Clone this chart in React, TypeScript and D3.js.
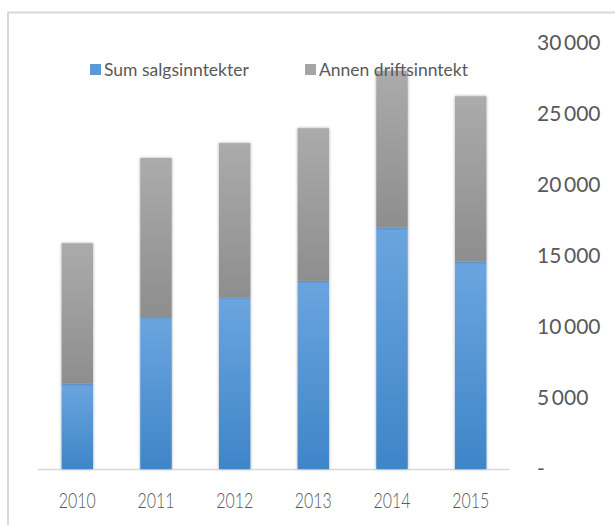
import React from 'react';
import * as d3 from 'd3';

// values
const years = ['2010', '2011', '2012', '2013', '2014', '2015'];
const sumSalgsinntekter = [6000, 10700, 12100, 13250, 17000, 14600];
const annenDriftsinntekt = [9900, 11200, 10850, 10750, 11050, 11650];
const yTicks = [0, 5000, 10000, 15000, 20000, 25000, 30000];
const seriesNames = ['Sum salgsinntekter', 'Annen driftsinntekt'];

const W = 615;
const H = 525;
const textColor = '#595959';
const font = 'Lato, sans-serif';

const nb = d3.formatLocale({decimal: ',', thousands: '\u2009', grouping: [3], currency: ['', '']});
const fmt = (v: number) => (v === 0 ? '-' : nb.format(',')(v));

export default function App() {
  const x = d3.scaleBand<string>()
    .domain(years)
    .range([38, 510])
    .paddingInner(0.6)
    .paddingOuter(0.3);

  const y = d3.scaleLinear()
    .domain([0, 30000])
    .range([469, 43]);

  const stack = d3.stack<number>()
    .keys([0, 1] as any)
    .value((i, k: any) => (k === 0 ? sumSalgsinntekter[i] : annenDriftsinntekt[i]));
  const layers = stack(d3.range(years.length));
  const fills = ['url(#gBlue)', 'url(#gGray)'];
  const legendFills = ['#5b9bd5', '#a5a5a5'];
  const legendX = [90, 305];

  return (
    <svg width={W} height={H} style={{position: 'absolute', left: 0, top: 0}}
      xmlns="http://www.w3.org/2000/svg">
      <defs>
        <linearGradient id="gBlue" x1="0" y1="0" x2="0" y2="1">
          <stop offset="0" stopColor="#6ba5df" />
          <stop offset="1" stopColor="#3f85c8" />
        </linearGradient>
        <linearGradient id="gGray" x1="0" y1="0" x2="0" y2="1">
          <stop offset="0" stopColor="#ababab" />
          <stop offset="1" stopColor="#8e8e8e" />
        </linearGradient>
        <filter id="shadow" x="-30%" y="-10%" width="160%" height="120%">
          <feDropShadow dx="0" dy="0" stdDeviation="1.6" floodColor="#000" floodOpacity="0.35" />
        </filter>
      </defs>
      <rect x={0} y={0} width={W} height={H} fill="#fff" />
      {/* chart area border, runs off the picture */}
      <rect x={8} y={12.5} width={700} height={600} fill="none" stroke="#d9d9d9" strokeWidth={2} />

      <line x1={38} x2={510} y1={y(0) + 0.5} y2={y(0) + 0.5} stroke="#d9d9d9" strokeWidth={1.5} />

      {layers.map((layer, li) => (
        <g key={li} filter="url(#shadow)">
          {layer.map((d, i) => (
            <rect key={years[i]}
              x={x(years[i])}
              y={y(d[1])}
              width={x.bandwidth()}
              height={y(d[0]) - y(d[1])}
              fill={fills[li]} />
          ))}
        </g>
      ))}

      {yTicks.map(t => (
        <text key={t} x={537} y={y(t)} dy="0.35em" fill={textColor}
          fontFamily={font} fontSize={21}>{fmt(t)}</text>
      ))}

      {years.map(yr => (
        <text key={yr} x={x(yr)! + x.bandwidth() / 2} y={508} textAnchor="middle"
          fill={textColor} fontFamily={font} fontSize={21} fontWeight={300}
          textLength={37} lengthAdjust="spacingAndGlyphs">{yr}</text>
      ))}

      {seriesNames.map((s, i) => (
        <g key={s} transform={`translate(${legendX[i]},64)`}>
          <rect x={0} y={0} width={11} height={11} fill={legendFills[i]} />
          <text x={14} y={11.5} fill={textColor} fontFamily={font} fontSize={17.5}>{s}</text>
        </g>
      ))}
    </svg>
  );
}
